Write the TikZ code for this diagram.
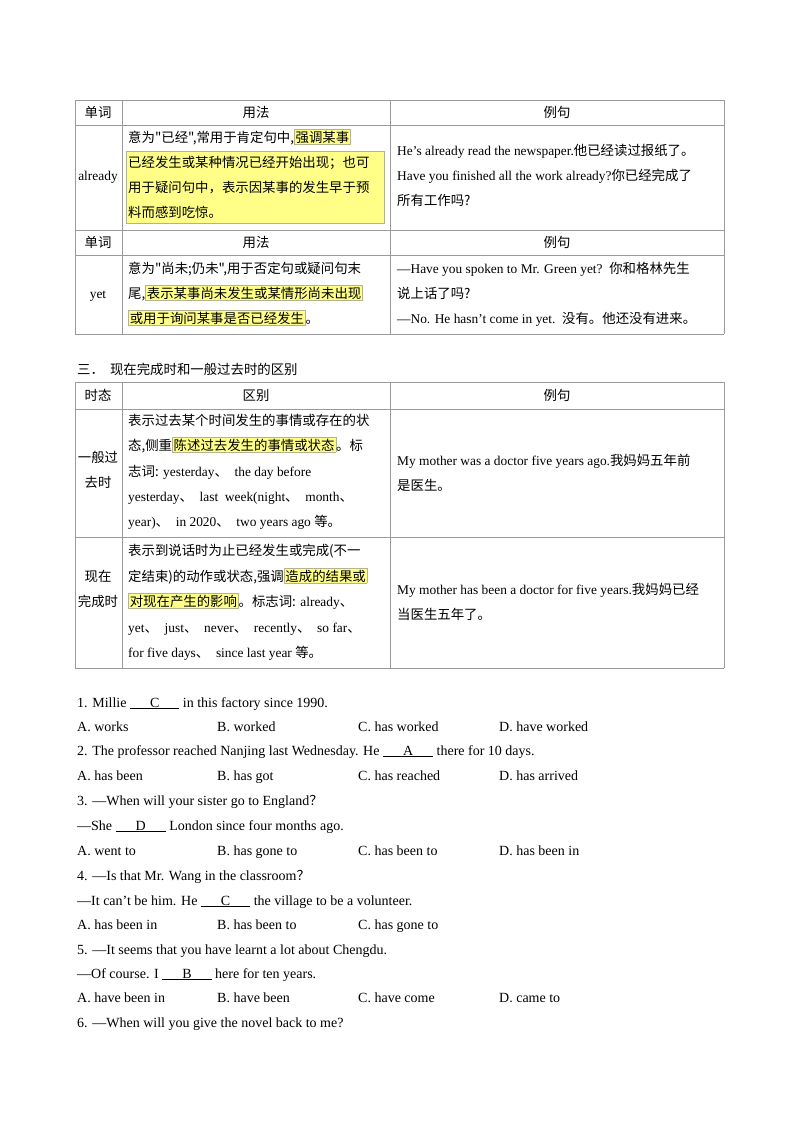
\documentclass[tikz,border=0pt]{standalone}
\usepackage{fontspec}
\setmainfont{Liberation Serif}
\newfontfamily\cjk{Noto Sans CJK SC}
\definecolor{hilite}{HTML}{FFFF88}
\definecolor{hiline}{HTML}{B4B48C}
\definecolor{rulecol}{HTML}{9A9A9A}
\newcommand\zh[1]{{\cjk\fontsize{13.4}{15}\selectfont #1}}
\newcommand\hl[1]{{\setlength\fboxsep{1pt}\setlength\fboxrule{0.6pt}\fcolorbox{hiline}{hilite}{#1}}}
\newcommand\blank[1]{\underline{\hspace{20pt}#1\hspace{20pt}}}

\begin{document}
\begin{tikzpicture}[x=1pt,y=-1pt,
  txt/.style={anchor=base west,inner sep=0pt,font=\fontsize{13.4}{15}\selectfont},
  qtxt/.style={anchor=base west,inner sep=0pt,font=\fontsize{14}{16}\selectfont},
  ctr/.style={anchor=base,inner sep=0pt,font=\fontsize{13.4}{15}\selectfont},
  hlbox/.style={fill=hilite,draw=hiline,line width=0.6pt},
  grid/.style={draw=rulecol,line width=0.8pt}]

  \useasboundingbox[fill=white] (0,0) rectangle (800,1132);

  % highlight over three lines
  \draw[hlbox] (126,151) rectangle (384,223);

  % table rules
  \foreach \y in {100,125,230,255,334,382,409,537,668}
    \draw[grid] (75,\y) -- (724,\y);
  \foreach \x in {75,122,390,724} {
    \draw[grid] (\x,100) -- (\x,334);
    \draw[grid] (\x,382) -- (\x,668);
  }

  % table one
  \node[ctr] (hA1) at (98,117)  {\zh{单词}};
  \node[ctr] (hB1) at (256,117) {\zh{用法}};
  \node[ctr] (hC1) at (557,117) {\zh{例句}};
  \node[ctr] (already) at (98,180) {already};
  \node[txt] (al1) at (128,142) {\zh{意为"已经",常用于肯定句中,\hl{强调某事}}};
  \node[txt] (al2) at (128,167) {\zh{已经发生或某种情况已经开始出现；也可}};
  \node[txt] (al3) at (128,192) {\zh{用于疑问句中，表示因某事的发生早于预}};
  \node[txt] (al4) at (128,217) {\zh{料而感到吃惊。}};
  \node[txt] (ae1) at (397,155) {He's already read the newspaper.\zh{他已经读过报纸了。}};
  \node[txt] (ae2) at (397,180) {Have you finished all the work already?\zh{你已经完成了}};
  \node[txt] (ae3) at (397,205) {\zh{所有工作吗?}};
  \node[ctr] (hA2) at (98,247)  {\zh{单词}};
  \node[ctr] (hB2) at (256,247) {\zh{用法}};
  \node[ctr] (hC2) at (557,247) {\zh{例句}};
  \node[ctr] (yet) at (98,298) {yet};
  \node[txt] (yt1) at (128,273) {\zh{意为"尚未;仍未",用于否定句或疑问句末}};
  \node[txt] (yt2) at (128,298) {\zh{尾,\hl{表示某事尚未发生或某情形尚未出现}}};
  \node[txt] (yt3) at (128,323) {\zh{\hl{或用于询问某事是否已经发生}。}};
  \node[txt] (ye1) at (397,273) {---Have you spoken to Mr. Green yet?\ \ \zh{你和格林先生}};
  \node[txt] (ye2) at (397,298) {\zh{说上话了吗?}};
  \node[txt] (ye3) at (397,323) {---No. He hasn't come in yet.\ \ \zh{没有。他还没有进来。}};

  % table two
  \node[txt] (title) at (77,374) {\zh{三．\ \ 现在完成时和一般过去时的区别}};
  \node[ctr] (hA3) at (98,400)  {\zh{时态}};
  \node[ctr] (hB3) at (256,400) {\zh{区别}};
  \node[ctr] (hC3) at (557,400) {\zh{例句}};
  \node[ctr] (past1) at (98,462) {\zh{一般过}};
  \node[ctr] (past2) at (98,487) {\zh{去时}};
  \node[txt] (ps1) at (128,425) {\zh{表示过去某个时间发生的事情或存在的状}};
  \node[txt] (ps2) at (128,450) {\zh{态,侧重\hl{陈述过去发生的事情或状态}。标}};
  \node[txt] (ps3) at (128,476) {\zh{志词:} yesterday\zh{、}\ \ the day before};
  \node[txt] (ps4) at (128,501) {yesterday\zh{、}\ \ last\ \ week(night\zh{、}\ \ month\zh{、}};
  \node[txt] (ps5) at (128,526) {year)\zh{、}\ \ in 2020\zh{、}\ \ two years ago \zh{等。}};
  \node[txt] (pe1) at (397,465) {My mother was a doctor five years ago.\zh{我妈妈五年前}};
  \node[txt] (pe2) at (397,490) {\zh{是医生。}};
  \node[ctr] (perf1) at (98,581) {\zh{现在}};
  \node[ctr] (perf2) at (98,606) {\zh{完成时}};
  \node[txt] (pf1) at (128,555) {\zh{表示到说话时为止已经发生或完成(不一}};
  \node[txt] (pf2) at (128,581) {\zh{定结束)的动作或状态,强调\hl{造成的结果或}}};
  \node[txt] (pf3) at (128,606) {\zh{\hl{对现在产生的影响}。标志词:} already\zh{、}};
  \node[txt] (pf4) at (128,632) {yet\zh{、}\ \ just\zh{、}\ \ never\zh{、}\ \ recently\zh{、}\ \ so far\zh{、}};
  \node[txt] (pf5) at (128,657) {for five days\zh{、}\ \ since last year \zh{等。}};
  \node[txt] (fe1) at (397,594) {My mother has been a doctor for five years.\zh{我妈妈已经}};
  \node[txt] (fe2) at (397,619) {\zh{当医生五年了。}};

  % exercises
  \node[qtxt] (q1) at (77,707) {1. Millie \blank{C} in this factory since 1990.};
  \node[qtxt] (q1a) at (77,731)  {A. works};
  \node[qtxt] (q1b) at (217,731) {B. worked};
  \node[qtxt] (q1c) at (358,731) {C. has worked};
  \node[qtxt] (q1d) at (499,731) {D. have worked};
  \node[qtxt] (q2) at (77,755) {2. The professor reached Nanjing last Wednesday. He \blank{A} there for 10 days.};
  \node[qtxt] (q2a) at (77,780)  {A. has been};
  \node[qtxt] (q2b) at (217,780) {B. has got};
  \node[qtxt] (q2c) at (358,780) {C. has reached};
  \node[qtxt] (q2d) at (499,780) {D. has arrived};
  \node[qtxt] (q3) at (77,805) {3. ---When will your sister go to England\zh{？}};
  \node[qtxt] (q3s) at (77,830) {---She \blank{D} London since four months ago.};
  \node[qtxt] (q3a) at (77,855)  {A. went to};
  \node[qtxt] (q3b) at (217,855) {B. has gone to};
  \node[qtxt] (q3c) at (358,855) {C. has been to};
  \node[qtxt] (q3d) at (499,855) {D. has been in};
  \node[qtxt] (q4) at (77,880) {4. ---Is that Mr. Wang in the classroom\zh{？}};
  \node[qtxt] (q4s) at (77,905) {---It can't be him. He \blank{C} the village to be a volunteer.};
  \node[qtxt] (q4a) at (77,929)  {A. has been in};
  \node[qtxt] (q4b) at (217,929) {B. has been to};
  \node[qtxt] (q4c) at (358,929) {C. has gone to};
  \node[qtxt] (q5) at (77,954) {5. ---It seems that you have learnt a lot about Chengdu.};
  \node[qtxt] (q5s) at (77,978) {---Of course. I \blank{B} here for ten years.};
  \node[qtxt] (q5a) at (77,1002)  {A. have been in};
  \node[qtxt] (q5b) at (217,1002) {B. have been};
  \node[qtxt] (q5c) at (358,1002) {C. have come};
  \node[qtxt] (q5d) at (499,1002) {D. came to};
  \node[qtxt] (q6) at (77,1027) {6. ---When will you give the novel back to me?};
\end{tikzpicture}
\end{document}
